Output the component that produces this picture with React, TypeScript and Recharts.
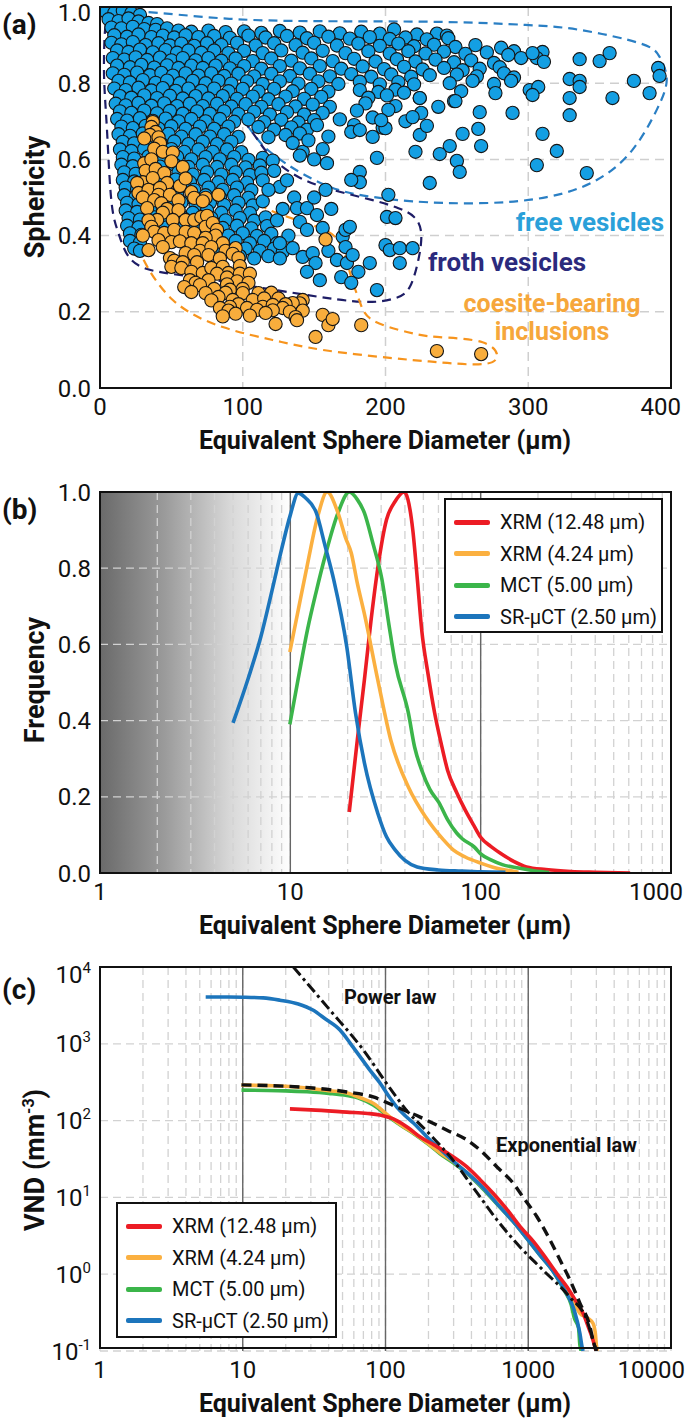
import React from "react";
import { ComposedChart, Scatter, Line, XAxis, YAxis, CartesianGrid, ReferenceLine } from "recharts";

const FONT = "Roboto, 'Liberation Sans', Arial, sans-serif";

// ---------- panel (a): sphericity vs diameter ----------
const xTicksA = [0, 100, 200, 300, 400];
const yTicksA = [0, 0.2, 0.4, 0.6, 0.8, 1.0];

const blueTop = [
  [4,.988],[10,.985],[16,.99],[22,.984],[28,.979],
  [6,.968],[13,.963],[20,.97],[27,.962],[34,.958],[40,.955],
  [8,.946],[15,.944],[23,.948],[31,.942],[39,.94],[47,.944],[55,.938],[64,.935],[76,.938],[88,.934],[101,.936],[113,.932],[126,.937],[140,.933],[154,.936],[168,.931],[183,.935],[196,.93],[206,.941],[222,.928],[236,.93],[243,.925],
  [10,.926],[19,.922],[27,.928],[36,.921],[44,.925],[52,.92],[60,.926],[69,.921],[80,.924],[91,.919],[104,.925],[116,.92],[131,.924],[145,.918],[160,.922],[175,.917],[189,.921],[203,.916],[214,.92],[229,.915],[244,.918],
  [8,.906],[15,.902],[23,.908],[32,.9],[41,.905],[49,.899],[57,.904],[66,.898],[75,.905],[85,.9],[96,.906],[109,.899],[122,.905],[137,.9],[150,.906],[166,.899],[181,.904],[196,.898],[209,.904],[220,.897],[234,.901],[249,.895],[263,.9],[281,.893],[290,.884],
  [12,.886],[20,.882],[28,.888],[37,.881],[46,.887],[54,.88],[62,.886],[71,.88],[80,.886],[90,.879],[101,.885],[114,.879],[127,.886],[142,.88],[156,.885],[172,.879],[188,.884],[203,.878],[216,.884],[228,.878],[241,.883],[256,.877],[271,.881],[286,.874],[295,.866],
  [9,.866],[17,.862],[25,.868],[33,.861],[42,.867],[50,.86],[58,.866],[67,.86],[76,.866],[85,.859],[95,.865],[107,.858],[120,.865],[134,.859],[148,.865],[163,.858],[178,.864],[193,.857],[208,.863],[221,.857],[235,.862],[248,.855],[260,.86],[276,.853],
  [12,.846],[21,.842],[29,.848],[38,.841],[47,.847],[55,.84],[64,.846],[72,.84],[81,.846],[91,.839],[101,.845],[113,.838],[126,.845],[140,.839],[154,.845],[169,.838],[184,.844],[199,.837],[213,.843],[226,.836],[241,.84],[254,.834],[266,.838],[280,.842],
  [9,.826],[17,.822],[26,.828],[35,.821],[43,.827],[51,.82],[60,.826],[69,.82],[78,.826],[87,.819],[97,.825],[108,.818],[120,.825],[133,.819],[147,.825],[161,.818],[176,.824],[190,.817],[204,.823],[218,.817],[231,.821],[250,.823],[264,.818],[283,.826],[290,.815],
  [13,.806],[21,.802],[30,.808],[39,.801],[47,.807],[56,.8],[65,.806],[74,.8],[83,.806],[92,.799],[103,.805],[114,.798],[126,.805],[139,.799],[153,.805],[167,.798],[182,.804],[196,.797],[209,.803],[220,.797],[245,.8],[261,.806],[276,.798],[288,.806],
];

const blueMid = [
  [10,.786],[18,.782],[27,.788],[36,.781],[44,.787],[53,.78],[62,.786],[71,.78],[80,.786],[90,.779],[100,.785],[111,.778],[122,.785],[135,.779],[148,.785],[160,.778],[182,.782],[195,.777],[207,.783],[213,.775],[253,.779],
  [14,.766],[22,.762],[31,.768],[40,.761],[49,.767],[58,.76],[67,.766],[76,.76],[86,.766],[96,.759],[107,.765],[118,.758],[130,.765],[143,.759],[155,.764],[188,.762],[201,.768],[224,.761],[248,.753],[277,.774],
  [11,.746],[18,.742],[27,.748],[36,.741],[45,.747],[54,.74],[63,.746],[72,.74],[82,.746],[92,.739],[102,.745],[113,.738],[125,.745],[137,.739],[149,.744],[161,.738],[186,.747],[207,.74],
  [14,.726],[22,.722],[31,.728],[40,.721],[49,.727],[58,.72],[68,.726],[77,.72],[87,.726],[97,.719],[108,.725],[119,.718],[131,.724],[143,.718],[156,.722],[180,.728],[202,.73],[225,.722],
  [12,.706],[19,.702],[28,.708],[37,.701],[46,.707],[55,.7],[64,.706],[74,.7],[84,.706],[94,.699],[104,.705],[115,.698],[127,.704],[139,.697],[150,.703],[168,.705],[191,.71],[214,.7],
  [15,.686],[23,.682],[32,.688],[41,.681],[50,.687],[60,.68],[70,.686],[80,.68],[90,.686],[111,.685],[122,.678],[134,.684],[145,.678],[178,.69],[198,.683],
  [13,.666],[21,.662],[30,.668],[39,.661],[48,.667],[57,.66],[67,.666],[77,.66],[87,.666],[97,.659],[118,.658],[130,.664],[140,.668],
  [16,.646],[24,.642],[33,.648],[43,.641],[52,.647],[62,.64],[72,.646],[82,.64],[92,.646],[135,.643],
  [14,.626],[22,.622],[31,.628],[40,.621],[50,.627],[59,.62],[69,.626],[79,.62],[89,.626],[99,.619],
  [16,.606],[24,.602],[34,.608],[44,.601],[54,.607],[64,.6],[74,.606],[84,.6],[94,.606],[104,.599],[114,.604],[121,.597],
];

const blueLow = [
  [15,.586],[23,.582],[32,.588],[42,.581],[52,.587],[62,.58],[72,.586],[82,.58],[92,.586],[102,.579],[112,.584],
  [17,.566],[25,.562],[35,.568],[45,.561],[55,.567],[65,.56],[75,.566],[85,.56],[95,.566],[105,.559],[113,.565],
  [16,.546],[24,.542],[33,.548],[43,.541],[53,.547],[63,.54],[73,.546],[83,.54],[93,.546],[103,.539],[114,.545],
  [18,.526],[26,.522],[36,.528],[46,.521],[56,.527],[66,.52],[76,.526],[86,.52],[96,.526],[106,.519],
  [17,.506],[25,.502],[34,.508],[44,.501],[54,.507],[64,.5],[74,.506],[84,.5],[94,.506],[104,.499],
  [19,.486],[27,.482],[37,.488],[47,.481],[57,.487],[67,.48],[77,.486],[87,.48],[97,.486],[107,.479],[114,.49],
  [18,.466],[26,.462],[35,.468],[45,.461],[55,.467],[65,.46],[75,.466],[85,.46],[95,.466],[105,.459],
  [20,.446],[28,.442],[38,.448],[48,.441],[58,.447],[68,.44],[78,.446],[88,.44],[98,.446],[108,.439],[116,.448],
  [19,.426],[27,.422],[36,.428],[46,.421],[56,.427],[66,.42],[76,.426],[86,.42],[96,.426],[106,.419],[117,.425],
  [21,.406],[29,.402],[39,.408],[60,.407],[70,.4],[80,.406],[90,.4],[100,.406],[110,.399],[120,.405],
  [21,.386],[28,.382],[65,.38],[75,.386],[85,.38],[95,.386],[105,.38],[115,.386],[124,.38],
  [24,.366],[28,.36],[80,.366],[92,.36],[102,.366],[112,.36],[122,.366],[128,.357],
  [98,.346],[108,.34],[118,.346],[126,.34],
];

const blueSparse = [
  [126,.528],[131,.545],[118,.52],[128,.47],[136,.5],[138,.472],[145,.472],[152,.454],[124,.44],[140,.436],
  [145,.415],[132,.4],[126,.38],[135,.367],[142,.344],[149,.354],[151,.328],[145,.305],[154,.283],[160,.36],
  [170,.397],[172,.415],[175,.423],[172,.37],[166,.336],[173,.328],[177,.349],[181,.305],[169,.291],[176,.276],
  [189,.328],[194,.257],[182,.567],[182,.54],[176,.546],[159,.59],[156,.627],[122,.57],
  [150,.6],[142,.62],[140,.61],[146,.65],[160,.66],[152,.69],[158,.52],[150,.5],[162,.47],[156,.42],
  [194,.604],[202,.507],[201,.449],[207,.446],[200,.375],[203,.362],[210,.367],[219,.367],[210,.328],[231,.538],
  [221,.62],[224,.664],[229,.688],[219,.711],[237,.738],[176,.672],[182,.677],[191,.659],[200,.682],[197,.703],
  [224,.761],[249,.753],[254,.667],[245,.635],[238,.614],[250,.596],[252,.567],[266,.724],[265,.68],[267,.635],
  [289,.722],[301,.782],[307,.79],[303,.769],[310,.882],[306,.866],[311,.856],[303,.879],[310,.667],[320,.622],
  [306,.585],[341,.564],[329,.811],[336,.806],[336,.79],[329,.761],[329,.716],[336,.863],[350,.858],[357,.879],
  [391,.84],[392,.819],[374,.806],[385,.774],[359,.761],
];

const orangeCore = [
  [37,.698],[36,.685],[39,.672],[35,.664],[31,.655],[41,.658],[42,.642],[38,.628],[44,.62],[51,.618],
  [50,.595],[58,.58],[31,.59],[36,.6],[32,.57],[39,.575],[45,.564],[30,.54],[37,.551],[26,.538],
  [47,.538],[27,.512],[34,.52],[42,.525],[56,.53],[60,.55],[41,.507],[49,.507],[30,.5],[38,.493],
  [55,.493],[64,.514],[66,.499],[74,.499],[83,.507],[72,.49],[43,.485],[33,.472],[47,.47],[44,.46],
  [55,.467],[40,.441],[34,.44],[51,.441],[60,.441],[66,.441],[71,.449],[75,.452],[36,.423],[74,.423],
  [79,.433],[82,.415],[38,.41],[30,.4],[45,.407],[52,.415],[60,.41],[66,.407],[81,.4],[74,.394],
  [41,.388],[50,.383],[56,.385],[64,.38],[72,.38],[86,.38],[34,.362],[44,.37],[70,.36],[78,.37],
  [88,.36],[95,.367],[93,.352],[49,.341],[52,.334],[60,.354],[66,.349],[76,.349],[84,.34],[97,.341],
  [58,.33],[68,.33],[98,.32],[50,.318],[57,.315],[64,.305],[72,.302],[78,.315],[86,.318],[90,.302],
  [82,.3],[98,.3],[105,.3],[63,.283],[67,.276],[76,.283],[89,.29],[96,.28],[104,.276],[59,.265],
  [70,.27],[80,.26],[89,.272],[91,.258],[100,.26],[64,.252],[74,.249],[88,.25],[100,.249],[111,.249],
  [120,.25],[83,.239],[78,.23],[93,.231],[107,.231],[115,.235],[125,.235],[142,.231],[140,.222],[135,.223],
  [130,.22],[97,.22],[91,.213],[84,.21],[103,.21],[114,.213],[121,.218],[128,.21],[90,.203],[110,.205],
  [121,.204],[133,.2],[142,.203],[95,.195],[105,.19],[116,.197],[86,.188],[137,.186],[138,.178],[123,.168],
];

const orangeTail = [[156,.192],[160,.165],[163,.181],[151,.134],[183,.165],[158,.39],[236,.097],[267,.089]];

const freeOutline = [[80,.82],[30,.95],[6,.99],[30,.988],[83,.971],[145,.963],[237,.961],[298,.953],[336,.94],[378,.905],[392,.869],[397,.81],[390,.73],[373,.625],[348,.546],[313,.501],[266,.485],[219,.49],[190,.502],[167,.52],[142,.562],[120,.617],[105,.68],[80,.82]];
const frothOutline = [[80,.8],[25,.93],[6,.975],[3,.9],[3,.8],[5,.67],[8,.49],[13,.406],[22,.336],[41,.305],[65,.292],[102,.27],[145,.244],[185,.226],[207,.236],[217,.265],[223,.336],[225,.407],[220,.449],[209,.472],[191,.493],[163,.52],[139,.554],[120,.606],[105,.68],[80,.8]];
const coesiteOutline = [[50,.7],[30,.6],[26,.5],[27,.4],[30,.341],[51,.231],[86,.16],[121,.126],[156,.1],[203,.079],[236,.068],[265,.062],[278,.08],[268,.12],[236,.134],[215,.147],[191,.178],[182,.226],[176,.291],[168,.38],[152,.423],[124,.459],[100,.52],[70,.65],[50,.7]];

// ---------- panel (b): normalised frequency ----------
const xTicksB = [1,2,3,4,5,6,7,8,9,10,20,30,40,50,60,70,80,90,100,200,300,400,500,600,700,800,900,1000];
const xLabelsB = [1, 10, 100, 1000];
const yTicksB = [0, 0.2, 0.4, 0.6, 0.8, 1.0];

const redB = [[20.4,.16],[22.5,.35],[24.5,.507],[26.5,.66],[28.8,.8],[32,.927],[35.5,.975],[39.6,1.0],[41.5,.98],[44,.9],[46.5,.77],[49,.638],[53,.52],[57.3,.42],[62,.34],[67,.27],[75,.21],[83,.165],[92,.125],[100,.094],[113,.07],[127,.052],[150,.03],[174,.016],[220,.009],[298,.004],[400,.002],[610,0]];
const orangeB = [[9.94,.58],[11,.69],[12.3,.81],[14,.94],[15.6,1.0],[17.8,.945],[19.5,.88],[20.9,.84],[22.5,.76],[24.5,.68],[28.8,.507],[33.7,.349],[41.7,.226],[51.4,.147],[63.8,.087],[72,.06],[83,.042],[100,.026],[115,.016],[135,.008],[158,.002]];
const greenB = [[9.94,.39],[11,.51],[12.3,.638],[13.7,.74],[15.2,.83],[17.8,.945],[20.4,1.0],[22.5,.98],[24.5,.945],[27,.87],[30.3,.77],[33,.65],[35.6,.55],[41.7,.42],[45,.33],[49,.27],[54,.22],[60.5,.184],[67,.14],[74.8,.105],[80,.09],[92.7,.068],[100,.05],[114,.034],[130,.022],[158,.013],[190,.006],[229,.001]];
const blueB = [[5,.394],[6,.51],[7,.62],[8,.74],[9,.85],[10,.94],[11,.997],[12,.985],[13.7,.945],[15.2,.86],[16.9,.77],[19.8,.593],[22,.42],[24.5,.289],[28.8,.157],[32,.095],[35.6,.06],[40,.033],[46.4,.016],[60,.008],[79,.005],[100,.003],[135,.002]];

// ---------- panel (c): VND ----------
const xTicksC = [1,2,3,4,5,6,7,8,9,10,20,30,40,50,60,70,80,90,100,200,300,400,500,600,700,800,900,1000,2000,3000,4000,5000,6000,7000,8000,9000,10000];
const xLabelsC = [1, 10, 100, 1000, 10000];
const yTicksC = [0.1, 1, 10, 100, 1000, 10000];
const yExpC = ["-1", "0", "1", "2", "3", "4"];

const redC = [[21.4,142],[30,138],[53.7,129],[75,124],[91.5,118],[120,100],[145,80],[175,61],[220,48],[270,38],[372,24.9],[460,17],[563,11.5],[700,7.2],[875,4.2],[1100,2.6],[1360,1.53],[1600,1.0],[1870,.68],[2150,.45],[2420,.31],[2650,.2],[2840,.139],[2940,.11],[3000,.1]];
const orangeC = [[9.8,290],[15,285],[20,280],[28.2,266],[40,245],[53.7,229],[66,200],[82,168],[108,111],[130,86],[157,69],[200,50],[241,38],[300,29],[372,21],[480,13.5],[604,8.5],[780,5],[980,3.0],[1200,1.9],[1500,1.13],[1960,.56],[2300,.31],[2600,.27],[2840,.23],[2950,.17],[3000,.12],[3050,.1]];
const greenC = [[9.8,249],[15,247],[20,244],[28.2,237],[40,226],[53.7,212],[66,194],[82,160],[108,108],[130,85],[157,68],[200,49],[241,37],[300,28],[372,20.5],[480,13],[604,8.2],[780,4.9],[980,2.9],[1200,1.8],[1500,1.08],[1800,.6],[2000,.4],[2100,.27],[2250,.2],[2300,.12],[2350,.1]];
const blueC = [[5.5,4070],[8,4060],[10,4040],[13.9,3960],[18.2,3700],[24.5,3300],[31,2750],[38,2100],[48,1510],[57,1000],[66.5,676],[78,450],[91.5,309],[105,210],[120,150],[138,115],[157,93],[180,72],[205,56],[240,43],[290,31],[372,21],[480,13.5],[604,8.3],[780,4.9],[980,2.9],[1200,1.8],[1500,1.08],[1800,.62],[2100,.34],[2300,.17],[2390,.11],[2420,.1]];
const powerLaw = [[22.6,10000],[40.8,2750],[70,830],[108,260],[141,135],[205,66],[297,30.6],[410,13.6],[604,5.1],[875,2.26],[1270,1.13],[1960,.5],[2580,.25],[2840,.139],[3000,.1]];
const expLaw = [[9.8,292],[31,266],[53.7,236],[82,203],[120,150],[175,111],[270,75],[372,56],[459,41.4],[604,24.9],[782,15.4],[919,10.1],[1150,5.6],[1420,2.8],[1670,1.53],[1960,.84],[2300,.42],[2710,.205],[2840,.139],[3000,.1]];

const COL = { red: "#ec1c24", orange: "#fbb040", green: "#3bb54a", blue: "#1c75bc" };

const xy = (a: number[][]) => a.map(([x, y]) => ({ x, y }));

const dot = (fill: string) => (p: any) => (
  <circle cx={p.cx} cy={p.cy} r={6.6} fill={fill} stroke="#151515" strokeWidth={1.1} />
);

const makeXTick = (labels: number[], endX: number) => (p: any) => {
  const v = p.payload.value;
  if (!labels.includes(v)) return <g />;
  const last = v === labels[labels.length - 1];
  return (
    <text x={last ? endX : p.x} y={p.y} dy="0.71em" textAnchor={last ? "end" : "middle"} fontSize={24} fontFamily={FONT} fill="#111">
      {String(v)}
    </text>
  );
};

const YTickDec = (p: any) => (
  <text x={p.x} y={Math.max(p.y, 12)} dy="0.355em" textAnchor="end" fontSize={24} fontFamily={FONT} fill="#111">
    {Number(p.payload.value).toFixed(1)}
  </text>
);

const YTickPow = (p: any) => {
  const i = yTicksC.indexOf(p.payload.value);
  return (
    <text x={p.x} y={Math.max(p.y, 14)} dy="0.355em" textAnchor="end" fontSize={24} fontFamily={FONT} fill="#111">
      10<tspan dy={-10} fontSize={15}>{yExpC[i]}</tspan>
    </text>
  );
};

function Txt({ x, y, size, color = "#111", bold = true, anchor = "start", rotate = false, children }: any) {
  const tx = anchor === "middle" ? "-50%" : anchor === "end" ? "-100%" : "0";
  return (
    <div
      style={{
        position: "absolute", left: x, top: y, whiteSpace: "nowrap", lineHeight: 1,
        fontSize: size, fontWeight: bold ? 700 : 400, color, fontFamily: FONT,
        transform: `translate(${rotate ? "-50%" : tx},-50%)${rotate ? " rotate(-90deg)" : ""}`,
      }}
    >
      {children}
    </div>
  );
}

const Frame = ({ top }: { top: number }) => (
  <div style={{ position: "absolute", left: 99, top, width: 573, height: 383, border: "2px solid #111", boxSizing: "border-box" }} />
);

const legendItems = [
  { name: "XRM (12.48 µm)", color: COL.red },
  { name: "XRM (4.24 µm)", color: COL.orange },
  { name: "MCT (5.00 µm)", color: COL.green },
  { name: "SR-µCT (2.50 µm)", color: COL.blue },
];

const LegendBox = ({ left, top, width, height }: any) => (
  <div style={{ position: "absolute", left, top, width, height, border: "2px solid #111", background: "#fff", boxSizing: "border-box" }}>
    {legendItems.map((it, i) => (
      <div key={it.name} style={{ position: "absolute", left: 8, top: 8 + i * 31.5, height: 28, display: "flex", alignItems: "center" }}>
        <div style={{ width: 36, height: 5, background: it.color, borderRadius: 2 }} />
        <span style={{ marginLeft: 10, fontSize: 20, fontFamily: FONT, color: "#111" }}>{it.name}</span>
      </div>
    ))}
  </div>
);

const axisCommon = { tickLine: false, axisLine: false, tickSize: 0, allowDataOverflow: true, interval: 0 as const };

export default function App() {
  const lineProps = { dot: false, activeDot: false, isAnimationActive: false, dataKey: "y" };
  return (
    <div style={{ position: "absolute", left: 0, top: 0, width: 685, height: 1420, background: "#fff", fontFamily: FONT }}>
      {/* (a) */}
      <div style={{ position: "absolute", left: 0, top: 0 }}>
        <ComposedChart width={685} height={460} margin={{ top: 7, right: 14, bottom: 32, left: 0 }}>
          <CartesianGrid stroke="#cfcfcf" strokeWidth={1.5} strokeDasharray="9 6" />
          <XAxis type="number" dataKey="x" domain={[0, 400]} ticks={xTicksA} height={40} tickMargin={10} tick={makeXTick(xTicksA, 681)} {...axisCommon} />
          <YAxis type="number" dataKey="y" domain={[0, 1]} ticks={yTicksA} width={100} tickMargin={9} tick={YTickDec} {...axisCommon} />
          <Line {...lineProps} data={xy(freeOutline)} type="natural" stroke="#2a7fc4" strokeWidth={2.2} strokeDasharray="9 6" />
          <Line {...lineProps} data={xy(frothOutline)} type="natural" stroke="#1e1d66" strokeWidth={2.2} strokeDasharray="9 6" />
          <Line {...lineProps} data={xy(coesiteOutline)} type="natural" stroke="#f7941d" strokeWidth={2.2} strokeDasharray="9 6" />
          <Scatter data={xy([...blueTop, ...blueMid, ...blueLow, ...blueSparse])} shape={dot("#149fe3")} isAnimationActive={false} />
          <Scatter data={xy([...orangeCore, ...orangeTail])} shape={dot("#f8ad3c")} isAnimationActive={false} />
        </ComposedChart>
      </div>
      <Frame top={6} />
      <Txt x={2} y={25} size={28}>(a)</Txt>
      <Txt x={35} y={197} size={27} rotate>Sphericity</Txt>
      <Txt x={385} y={440} size={25} anchor="middle">Equivalent Sphere Diameter (µm)</Txt>
      <Txt x={664} y={222} size={26} anchor="end" color="#2aa0d9">free vesicles</Txt>
      <Txt x={428} y={262} size={26} color="#2b2a7d">froth vesicles</Txt>
      <Txt x={552} y={303} size={25} anchor="middle" color="#f6a73b">coesite-bearing</Txt>
      <Txt x={552} y={331} size={25} anchor="middle" color="#f6a73b">inclusions</Txt>

      {/* (b) */}
      <div style={{ position: "absolute", left: 0, top: 480 }}>
        <ComposedChart width={685} height={480} margin={{ top: 12, right: 14, bottom: 47, left: 0 }}>
          <defs>
            <linearGradient id="shadeB" x1="0" y1="0" x2="1" y2="0">
              <stop offset="0" stopColor="#6a6a6a" />
              <stop offset="0.114" stopColor="#9b9b9b" />
              <stop offset="0.228" stopColor="#d8d8d8" />
              <stop offset="0.334" stopColor="#ffffff" />
              <stop offset="1" stopColor="#ffffff" />
            </linearGradient>
          </defs>
          <CartesianGrid fill="url(#shadeB)" fillOpacity={1} stroke="#d2d2d2" strokeWidth={1.3} strokeDasharray="8 5" />
          <XAxis type="number" scale="log" dataKey="x" domain={[1, 1000]} ticks={xTicksB} height={40} tickMargin={10} tick={makeXTick(xLabelsB, 683)} {...axisCommon} />
          <YAxis type="number" dataKey="y" domain={[0, 1]} ticks={yTicksB} width={100} tickMargin={9} tick={YTickDec} {...axisCommon} />
          <ReferenceLine x={10} stroke="#666" strokeWidth={1.4} />
          <ReferenceLine x={100} stroke="#666" strokeWidth={1.4} />
          <Line {...lineProps} data={xy(redB)} type="monotone" stroke={COL.red} strokeWidth={3.6} />
          <Line {...lineProps} data={xy(greenB)} type="monotone" stroke={COL.green} strokeWidth={3.6} />
          <Line {...lineProps} data={xy(orangeB)} type="monotone" stroke={COL.orange} strokeWidth={3.6} />
          <Line {...lineProps} data={xy(blueB)} type="monotone" stroke={COL.blue} strokeWidth={3.6} />
        </ComposedChart>
      </div>
      <Frame top={491} />
      <LegendBox left={444} top={498} width={219} height={135} />
      <Txt x={2} y={510} size={28}>(b)</Txt>
      <Txt x={35} y={680} size={27} rotate>Frequency</Txt>
      <Txt x={385} y={925} size={25} anchor="middle">Equivalent Sphere Diameter (µm)</Txt>

      {/* (c) */}
      <div style={{ position: "absolute", left: 0, top: 960 }}>
        <ComposedChart width={685} height={460} margin={{ top: 7, right: 14, bottom: 29, left: 0 }}>
          <CartesianGrid stroke="#d2d2d2" strokeWidth={1.3} strokeDasharray="8 5" />
          <XAxis type="number" scale="log" dataKey="x" domain={[1, 10000]} ticks={xTicksC} height={40} tickMargin={10} tick={makeXTick(xLabelsC, 685)} {...axisCommon} />
          <YAxis type="number" scale="log" dataKey="y" domain={[0.1, 10000]} ticks={yTicksC} width={100} tickMargin={9} tick={YTickPow} {...axisCommon} />
          <ReferenceLine x={10} stroke="#666" strokeWidth={1.4} />
          <ReferenceLine x={100} stroke="#666" strokeWidth={1.4} />
          <ReferenceLine x={1000} stroke="#666" strokeWidth={1.4} />
          <Line {...lineProps} data={xy(greenC)} type="monotone" stroke={COL.green} strokeWidth={3.6} />
          <Line {...lineProps} data={xy(orangeC)} type="monotone" stroke={COL.orange} strokeWidth={3.6} />
          <Line {...lineProps} data={xy(blueC)} type="monotone" stroke={COL.blue} strokeWidth={3.6} />
          <Line {...lineProps} data={xy(redC)} type="monotone" stroke={COL.red} strokeWidth={3.6} />
          <Line {...lineProps} data={xy(powerLaw)} type="monotone" stroke="#111" strokeWidth={3} strokeDasharray="11 4 3 4" />
          <Line {...lineProps} data={xy(expLaw)} type="monotone" stroke="#111" strokeWidth={3.4} strokeDasharray="10 6" />
        </ComposedChart>
      </div>
      <Frame top={966} />
      <LegendBox left={116} top={1202} width={221} height={136} />
      <Txt x={2} y={990} size={28}>(c)</Txt>
      <Txt x={35} y={1160} size={27} rotate>VND (mm<sup style={{ fontSize: 16 }}>-3</sup>)</Txt>
      <Txt x={385} y={1403} size={25} anchor="middle">Equivalent Sphere Diameter (µm)</Txt>
      <Txt x={344} y={997} size={20}>Power law</Txt>
      <Txt x={496} y={1145} size={20}>Exponential law</Txt>
    </div>
  );
}
